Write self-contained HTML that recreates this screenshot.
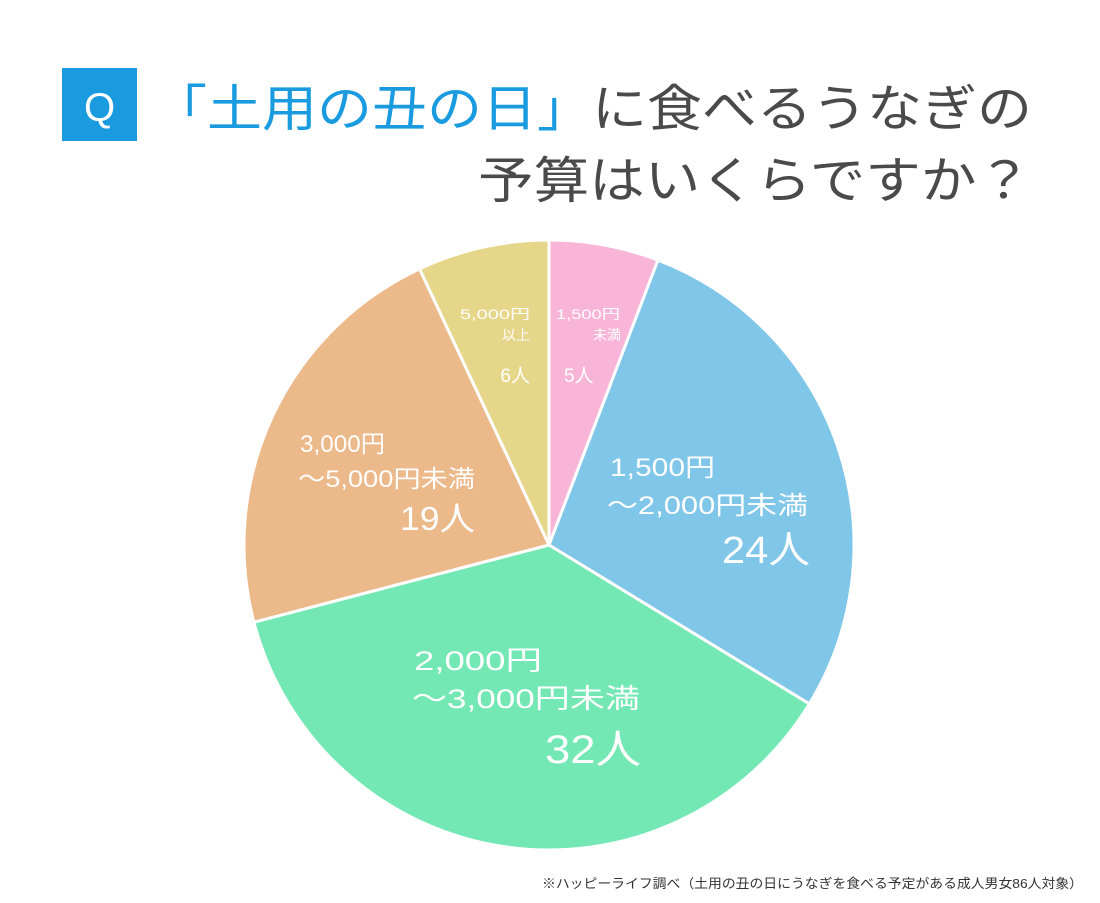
<!DOCTYPE html>
<html><head><meta charset="utf-8"><style>
body{margin:0;width:1100px;height:903px;background:#fff;overflow:hidden;font-family:"Liberation Sans","Noto Sans CJK JP",sans-serif;}
svg{position:absolute;left:0;top:0}
</style></head><body>
<svg width="1100" height="903">
<rect x="62" y="68" width="75" height="73" fill="#1a9be0"/>
<text x="99.5" y="121" font-size="40" fill="#fff" text-anchor="middle" font-family="Liberation Sans,sans-serif">Q</text>
<text x="152" y="126" font-size="50" fill="#4a4a4a" textLength="880" lengthAdjust="spacingAndGlyphs"><tspan fill="#1a9be0">「土用の丑の日」</tspan>に食べるうなぎの</text>
<text x="478" y="198" font-size="50" fill="#4a4a4a" textLength="554" lengthAdjust="spacingAndGlyphs">予算はいくらですか？</text>
<g id="slices"></g>
<g fill="#fff" lengthAdjust="spacingAndGlyphs">
<text x="460" y="319" font-size="14" textLength="70" lengthAdjust="spacingAndGlyphs">5,000円</text>
<text x="530" y="340" font-size="14" text-anchor="end">以上</text>
<text x="530" y="382" font-size="19" text-anchor="end">6人</text>
<text x="556" y="319" font-size="14" textLength="64" lengthAdjust="spacingAndGlyphs">1,500円</text>
<text x="621" y="340" font-size="14" text-anchor="end">未満</text>
<text x="564" y="382" font-size="19">5人</text>
<text x="610" y="476" font-size="25" textLength="105" lengthAdjust="spacingAndGlyphs">1,500円</text>
<text x="607" y="514" font-size="25" textLength="201" lengthAdjust="spacingAndGlyphs">〜2,000円未満</text>
<text x="722" y="563" font-size="38" textLength="88" lengthAdjust="spacingAndGlyphs">24人</text>
<text x="414" y="670" font-size="27" textLength="128" lengthAdjust="spacingAndGlyphs">2,000円</text>
<text x="412" y="708" font-size="27" textLength="228" lengthAdjust="spacingAndGlyphs">〜3,000円未満</text>
<text x="545" y="763" font-size="40" textLength="96" lengthAdjust="spacingAndGlyphs">32人</text>
<text x="300" y="452" font-size="24" textLength="85" lengthAdjust="spacingAndGlyphs">3,000円</text>
<text x="298" y="487" font-size="24" textLength="177" lengthAdjust="spacingAndGlyphs">〜5,000円未満</text>
<text x="400" y="530" font-size="33" textLength="75" lengthAdjust="spacingAndGlyphs">19人</text>
</g>
<text x="542" y="888" font-size="13" fill="#333" textLength="541" lengthAdjust="spacingAndGlyphs">※ハッピーライフ調べ（土用の丑の日にうなぎを食べる予定がある成人男女86人対象）</text>
</svg>
<script>
const categories=["1,500円未満","1,500円〜2,000円未満","2,000円〜3,000円未満","3,000円〜5,000円未満","5,000円以上"];
const values=[5,24,32,19,6];
const colors=["#f8b5d7","#80c6e8","#74e8b4","#ebb98a","#e5d68a"];
const cx=549,cy=545,r=305;
const g=document.getElementById('slices');
const total=values.reduce((a,b)=>a+b,0);
let acc=0;
function pt(a){return [cx+r*Math.sin(a),cy-r*Math.cos(a)];}
values.forEach((v,i)=>{
  const a0=acc/total*2*Math.PI;acc+=v;const a1=acc/total*2*Math.PI;
  const p0=pt(a0),p1=pt(a1);
  const p=document.createElementNS('http://www.w3.org/2000/svg','path');
  p.setAttribute('d',`M${cx},${cy}L${p0[0]},${p0[1]}A${r},${r} 0 ${a1-a0>Math.PI?1:0} 1 ${p1[0]},${p1[1]}Z`);
  p.setAttribute('fill',colors[i]);p.setAttribute('stroke','#fff');p.setAttribute('stroke-width','3');
  
  
  g.appendChild(p);
});
</script>
</body></html>
